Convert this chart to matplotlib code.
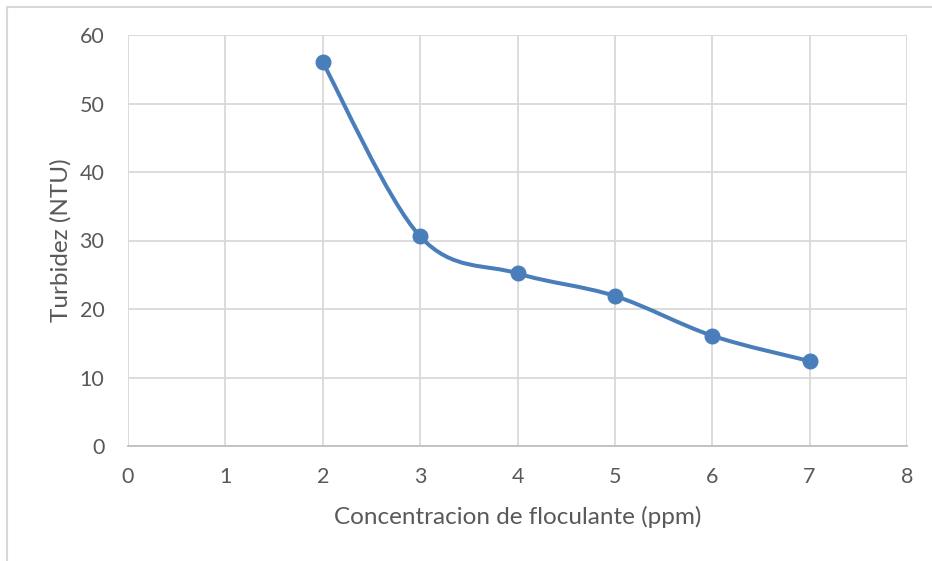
import numpy as np
import matplotlib
matplotlib.use('Agg')
import matplotlib.pyplot as plt
from matplotlib.path import Path
from matplotlib.patches import PathPatch
from matplotlib.lines import Line2D

plt.rcParams['font.family'] = ['Lato', 'DejaVu Sans']

# data
conc = [2, 3, 4, 5, 6, 7]
turbidez = [56.0, 30.6, 25.2, 21.9, 16.1, 12.4]

xticks = [0, 1, 2, 3, 4, 5, 6, 7, 8]
yticks = [0, 10, 20, 30, 40, 50, 60]

blue = '#4A7EBB'
grid_c = '#D9D9D9'
txt_c = '#595959'

fig = plt.figure(figsize=(9.32, 5.61), dpi=100)
W, H = 932, 561
ax = fig.add_axes([128 / W, 1 - 446 / H, 779 / W, 411 / H])

# chart border (Excel chart area)
fig.add_artist(Line2D([7 / W, 1], [1 - 7 / H, 1 - 7 / H], color=grid_c, lw=1.5))
fig.add_artist(Line2D([7 / W, 7 / W], [0, 1 - 7 / H], color=grid_c, lw=1.5))

# smoothed line like Excel (bezier through points)
x = np.array(conc, float)
y = np.array(turbidez, float)
verts = [(x[0], y[0])]
codes = [Path.MOVETO]
n = len(x)
for i in range(n - 1):
    p0 = np.array([x[max(i - 1, 0)], y[max(i - 1, 0)]])
    p1 = np.array([x[i], y[i]])
    p2 = np.array([x[i + 1], y[i + 1]])
    p3 = np.array([x[min(i + 2, n - 1)], y[min(i + 2, n - 1)]])
    c1 = p1 + (p2 - p0) / 6
    c2 = p2 - (p3 - p1) / 6
    verts += [tuple(c1), tuple(c2), tuple(p2)]
    codes += [Path.CURVE4] * 3
ax.add_patch(PathPatch(Path(verts, codes), fc='none', ec=blue, lw=2.9,
                       capstyle='round', joinstyle='round', zorder=3))
ax.plot(conc, turbidez, 'o', color=blue, ms=10.5, zorder=4)

ax.set_xlim(0, 8)
ax.set_ylim(0, 60)
ax.set_xticks(xticks)
ax.set_yticks(yticks)
ax.grid(True, color=grid_c, lw=1.3)
ax.set_axisbelow(True)
for s in ['top', 'right', 'left']:
    ax.spines[s].set_visible(False)
ax.spines['bottom'].set_color('#BFBFBF')
ax.spines['bottom'].set_linewidth(1.3)
ax.tick_params(length=0, labelsize=15.5, colors=txt_c)
ax.tick_params(axis='x', pad=15)
ax.tick_params(axis='y', pad=17)

ax.set_xlabel('Concentracion de floculante (ppm)', fontsize=17.5, color=txt_c, labelpad=14)
ax.set_ylabel('Turbidez (NTU)', fontsize=17.5, color=txt_c, labelpad=6)

fig.savefig('out.png', dpi=100)
